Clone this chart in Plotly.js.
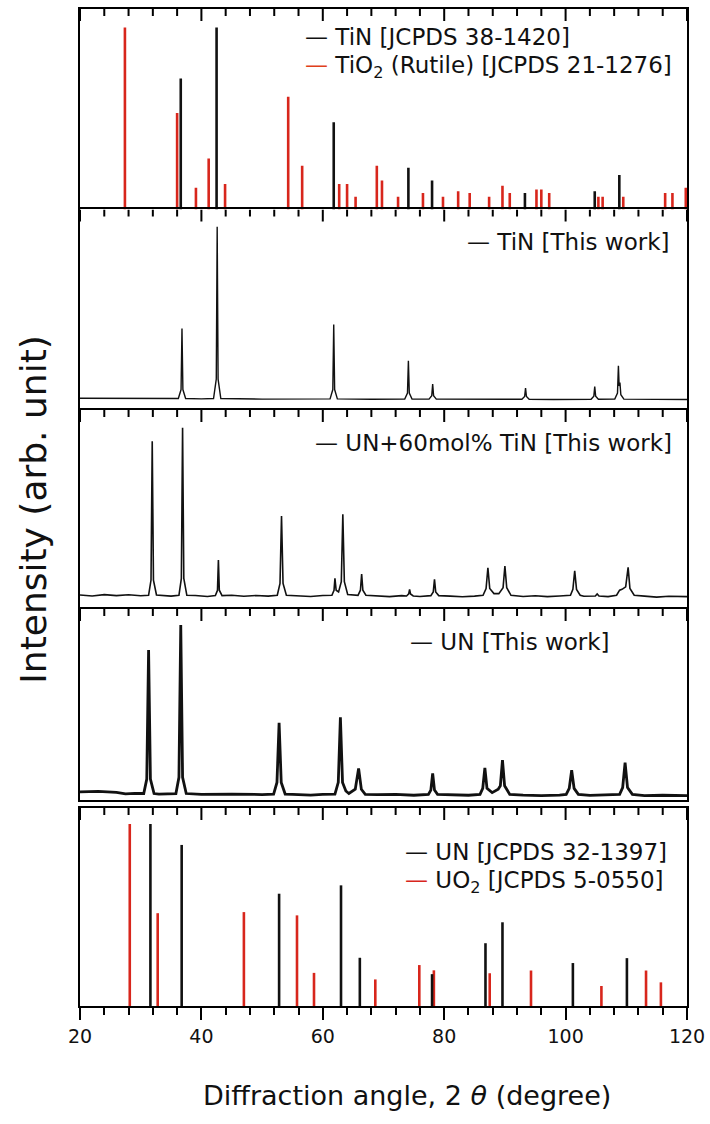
<!DOCTYPE html>
<html>
<head>
<meta charset="utf-8">
<script src="https://cdn.plot.ly/plotly-3.0.1.min.js"></script>
<style>html,body{margin:0;padding:0;background:#fff;}#chart{width:710px;height:1124px;}</style>
</head>
<body>
<div id="chart"></div>
<script>
// ---------- Panel 1: reference patterns TiN & TiO2 (rutile) ----------
const tinRefPos = [36.6, 42.5, 61.8, 74.1, 78.0, 93.3, 104.8, 108.85];
const tinRefInt = [72, 100, 48, 23, 16, 9, 10, 19];
const tio2Pos = [27.4, 36.0, 39.1, 41.2, 43.9, 54.3, 56.6, 62.7, 64.0, 65.4, 68.9, 69.75, 72.4, 76.5, 79.8, 82.3, 84.2, 87.4, 89.6, 90.8, 95.2, 96.0, 97.3, 105.4, 106.1, 109.5, 116.4, 117.6, 119.8];
const tio2Int = [100, 53, 12, 28, 14, 62, 24, 14, 14, 7, 24, 16, 7, 9, 7, 10, 9, 7, 13, 9, 11, 11, 9, 7, 7, 7, 9, 9, 12];

// ---------- Panel 2: TiN [This work] ----------
const tinX = [20, 28, 33, 36.2, 36.65, 36.8, 36.95, 37.4, 40, 42.0, 42.45, 42.6, 42.75, 43.2, 50, 56, 61.2, 61.65, 61.8, 61.95, 62.4, 68, 73.5, 73.95, 74.1, 74.25, 74.7, 77.5, 77.95, 78.1, 78.25, 78.7, 85, 92.8, 93.25, 93.4, 93.55, 94.0, 98, 104.2, 104.65, 104.8, 104.95, 105.4, 108.1, 108.55, 108.7, 108.82, 108.95, 109.1, 109.6, 114, 120];
const tinY = [1.0, 0.8, 0.6, 0.8, 6, 41.3, 6, 0.8, 0.6, 0.8, 12, 100, 12, 0.8, 0.5, 0.7, 0.6, 6, 43.6, 6, 0.6, 0.4, 0.5, 4, 22.7, 4, 0.5, 0.5, 2.5, 9.2, 2.5, 0.5, 0.4, 0.4, 2, 6.8, 2, 0.4, 0.3, 0.4, 2.2, 7.7, 2.2, 0.4, 0.5, 4, 19.8, 8, 10, 3, 0.5, 0.3, 0.3];

// ---------- Panel 3: UN+60mol% TiN [This work] ----------
const mixX = [20, 22, 24, 26, 28, 30, 31.3, 31.7, 31.9, 32.1, 32.6, 34, 35, 36.3, 36.7, 36.9, 37.1, 37.6, 39, 41, 42.3, 42.65, 42.8, 42.95, 43.4, 45, 47, 49, 51, 52.5, 52.95, 53.2, 53.45, 54.0, 56, 58, 60, 61.5, 61.85, 62.0, 62.2, 62.6, 63.05, 63.3, 63.55, 64.1, 65.8, 66.2, 66.4, 66.6, 67.1, 69, 71, 73, 73.8, 74.15, 74.3, 74.45, 74.9, 76, 77.8, 78.2, 78.4, 78.6, 79.1, 81, 83, 85, 86.4, 86.9, 87.2, 87.5, 88.2, 89.0, 89.7, 90.0, 90.3, 91.0, 93, 95, 97, 99, 100.8, 101.2, 101.5, 101.8, 102.4, 103, 104.9, 105.2, 105.5, 107, 108.4, 108.9, 109.3, 109.9, 110.3, 110.6, 111.3, 113, 115, 117, 120];
const mixY = [1.2, 0.6, 1.4, 0.8, 1.3, 0.7, 1.0, 10, 92.1, 10, 1.2, 1.0, 0.5, 1.0, 11, 100, 11, 1.0, 0.9, 0.3, 0.8, 4, 21.8, 4, 0.8, 1.0, 0.4, 0.9, 0.5, 1.0, 8, 47.9, 8, 1.0, 0.8, 0.3, 0.9, 1.0, 4, 11, 4, 3, 9, 48.9, 9, 1.5, 1.0, 4, 13.6, 4, 1.0, 0.6, 0.2, 0.8, 0.6, 1.8, 4.5, 1.8, 0.6, 0.3, 0.8, 3, 10.4, 3, 0.8, 0.5, 0.1, 0.5, 1.0, 5, 17.3, 5, 2, 2, 5.5, 18.3, 5.5, 1.0, 0.3, 0.7, 0.2, 0.6, 1.0, 4.5, 15.5, 4.5, 1.0, 0.4, 0.6, 1.8, 0.6, 0.2, 1.0, 4, 4.5, 6, 17.5, 5, 1.0, 0.5, -0.1, 0.4, 0.2];

// ---------- Panel 4: UN [This work] ----------
const unX = [20, 23, 26, 27.5, 29, 30.5, 31.0, 31.3, 31.6, 32.2, 33, 35.8, 36.3, 36.6, 36.9, 37.5, 40, 45, 50, 51.9, 52.45, 52.8, 53.15, 53.8, 55, 58, 60, 62.0, 62.55, 62.9, 63.25, 63.8, 64.3, 65.35, 65.9, 66.35, 67.0, 69, 72, 75, 77.4, 77.8, 78.1, 78.4, 78.9, 81, 84, 85.9, 86.35, 86.7, 87.05, 87.9, 88.9, 89.25, 89.6, 89.95, 90.8, 93, 96, 99, 100.1, 100.6, 101.0, 101.4, 102.1, 104, 107, 108.9, 109.4, 109.8, 110.2, 111.0, 113, 116, 120];
const unY = [2.5, 2.8, 2.2, 1.3, 1.6, 1.5, 10, 85.4, 10, 1.5, 1.2, 1.5, 11, 100, 11, 1.5, 1.0, 1.2, 0.9, 1.2, 8, 42.9, 8, 1.2, 1.0, 0.6, 1.0, 1.2, 8, 46, 8, 3, 1.5, 4, 16.2, 4, 1.0, 0.8, 1.0, 0.5, 1.0, 3.5, 13.3, 3.5, 1.0, 0.8, 0.5, 1.0, 4.5, 16.5, 4.5, 2, 4, 6, 21, 6, 1.0, 0.6, 0.3, 0.6, 1.0, 4.5, 15.2, 4.5, 1.0, 0.4, 0.7, 1.0, 5, 19.5, 5, 1.0, 0.3, 0.5, 0.3];

// ---------- Panel 5: reference patterns UN & UO2 ----------
const unRefPos = [31.6, 36.75, 52.8, 63.0, 66.1, 78.0, 86.8, 89.6, 101.2, 110.1];
const unRefInt = [100, 88.5, 61.7, 66.3, 26.5, 17.5, 34.5, 46, 23.6, 26.3];
const uo2Pos = [28.2, 32.8, 47.0, 55.75, 58.55, 68.65, 75.9, 78.3, 87.5, 94.3, 105.9, 113.25, 115.7];
const uo2Int = [100, 51, 51.6, 49.8, 18.2, 14.6, 22.5, 19.6, 18, 19.5, 11, 19.5, 13];

// ---------- Ticks & texts ----------
const xTickVals = [20, 40, 60, 80, 100, 120];
const xMinorVals = [24, 28, 32, 36, 44, 48, 52, 56, 64, 68, 72, 76, 84, 88, 92, 96, 104, 108, 112, 116];
const xTitle = 'Diffraction angle, 2 <i>θ</i> (degree)';
const yTitle = 'Intensity (arb. unit)';

const RED = '#d8261c';
const BLK = '#111111';
const TICKC = '#000000';
const FONT = 'DejaVu Sans, Arial, sans-serif';

// panel domains (paper fractions) and y ranges
const dom1 = [0.7989, 1], dom2 = [0.5978, 0.7989], dom3 = [0.3982, 0.5978], dom4 = [0.2066, 0.3982], dom5 = [0, 0.1986];
const rng1 = [0, 110.2], rng2 = [-5.8, 110], rng3 = [-7.1, 110.5], rng4 = [-2.3, 109.4], rng5 = [0, 108.8];
const PLOT_H = 997;

function sticks(pos, inten, color, xa, ya, w) {
  const x = [], y = [];
  pos.forEach((p, i) => { x.push(p, p, null); y.push(0, inten[i], null); });
  return {type: 'scatter', mode: 'lines', x, y, xaxis: xa, yaxis: ya,
          line: {color, width: w}, hoverinfo: 'skip', showlegend: false, connectgaps: false};
}
function profile(x, y, xa, ya, w) {
  return {type: 'scatter', mode: 'lines', x, y, xaxis: xa, yaxis: ya,
          line: {color: BLK, width: w}, hoverinfo: 'skip', showlegend: false};
}
// downward tick marks hanging from the top edge of a panel (length in px, converted with the panel's own scale)
function topTicks(xa, ya, rng, dom) {
  const unitsPerPx = (rng[1] - rng[0]) / ((dom[1] - dom[0]) * PLOT_H);
  const x = [], y = [];
  xTickVals.forEach(t => { x.push(t, t, null); y.push(rng[1], rng[1] - 12 * unitsPerPx, null); });
  xMinorVals.forEach(t => { x.push(t, t, null); y.push(rng[1], rng[1] - 7 * unitsPerPx, null); });
  return {type: 'scatter', mode: 'lines', x, y, xaxis: xa, yaxis: ya, cliponaxis: false,
          line: {color: TICKC, width: 2}, hoverinfo: 'skip', showlegend: false, connectgaps: false};
}

const data = [
  sticks(tio2Pos, tio2Int, RED, 'x', 'y', 2.6),
  sticks(tinRefPos, tinRefInt, BLK, 'x', 'y', 2.6),
  profile(tinX, tinY, 'x2', 'y2', 1.4),
  profile(mixX, mixY, 'x3', 'y3', 1.6),
  profile(unX, unY, 'x4', 'y4', 2.8),
  sticks(uo2Pos, uo2Int, RED, 'x5', 'y5', 2.6),
  sticks(unRefPos, unRefInt, BLK, 'x5', 'y5', 2.6),
  topTicks('x', 'y', rng1, dom1),
  topTicks('x2', 'y2', rng2, dom2),
  topTicks('x3', 'y3', rng3, dom3),
  topTicks('x4', 'y4', rng4, dom4),
  topTicks('x5', 'y5', rng5, dom5)
];

// top edge line only (the panel below draws the shared boundary); panel 4 also draws its bottom edge
function boxX(anchor, both) {
  return {anchor, side: 'top', range: [20, 120], showline: true, mirror: both, linewidth: 2, linecolor: '#000',
          ticks: '', showticklabels: false, showgrid: false, zeroline: false, fixedrange: true};
}
function yAx(domain, range) {
  return {domain, range, showline: true, mirror: true, linewidth: 2, linecolor: '#000', ticks: '',
          showticklabels: false, showgrid: false, zeroline: false, fixedrange: true};
}

const layout = {
  width: 710, height: 1124,
  margin: {l: 80, r: 23, t: 9, b: 118},
  paper_bgcolor: '#fff', plot_bgcolor: '#fff',
  font: {family: FONT, color: '#111', size: 19},
  showlegend: false,
  xaxis: boxX('y', false),
  xaxis2: boxX('y2', false),
  xaxis3: boxX('y3', false),
  xaxis4: boxX('y4', true),
  xaxis5: {anchor: 'y5', side: 'bottom', range: [20, 120], showline: true, mirror: true, linewidth: 2,
           linecolor: '#000', tickfont: {size: 19, family: FONT}, showgrid: false, zeroline: false, fixedrange: true,
           ticks: 'outside', ticklen: 12, tickwidth: 2, tickcolor: '#000', tickvals: xTickVals,
           minor: {ticks: 'outside', tickvals: xMinorVals, ticklen: 7, tickwidth: 2, tickcolor: '#000', showgrid: false}},
  yaxis: yAx(dom1, rng1),
  yaxis2: yAx(dom2, rng2),
  yaxis3: Object.assign(yAx(dom3, rng3),
           {title: {text: yTitle, font: {size: 36, family: FONT}, standoff: 20}}),
  yaxis4: yAx(dom4, rng4),
  yaxis5: yAx(dom5, rng5),
  annotations: [
    {xref: 'x', yref: 'y domain', x: 56.7, y: 0.862, xanchor: 'left', yanchor: 'middle', showarrow: false,
     text: '— TiN [JCPDS 38-1420]', font: {size: 23, family: FONT, color: '#111'}},
    {xref: 'x', yref: 'y domain', x: 56.7, y: 0.712, xanchor: 'left', yanchor: 'middle', showarrow: false,
     text: '<span style="color:#e0401a">—</span> TiO<sub>2</sub> (Rutile) [JCPDS 21-1276]', font: {size: 23, family: FONT, color: '#111'}},
    {xref: 'x2', yref: 'y2 domain', x: 117.3, y: 0.839, xanchor: 'right', yanchor: 'middle', showarrow: false,
     text: '— TiN [This work]', font: {size: 23, family: FONT, color: '#111'}},
    {xref: 'x3', yref: 'y3 domain', x: 117.8, y: 0.833, xanchor: 'right', yanchor: 'middle', showarrow: false,
     text: '— UN+60mol% TiN [This work]', font: {size: 23, family: FONT, color: '#111'}},
    {xref: 'x4', yref: 'y4 domain', x: 107.6, y: 0.829, xanchor: 'right', yanchor: 'middle', showarrow: false,
     text: '— UN [This work]', font: {size: 23, family: FONT, color: '#111'}},
    {xref: 'x5', yref: 'y5 domain', x: 73.2, y: 0.778, xanchor: 'left', yanchor: 'middle', showarrow: false,
     text: '— UN [JCPDS 32-1397]', font: {size: 23, family: FONT, color: '#111'}},
    {xref: 'x5', yref: 'y5 domain', x: 73.2, y: 0.625, xanchor: 'left', yanchor: 'middle', showarrow: false,
     text: '<span style="color:#d8261c">—</span> UO<sub>2</sub> [JCPDS 5-0550]', font: {size: 23, family: FONT, color: '#111'}},
    {xref: 'paper', yref: 'paper', x: 0.539, y: -0.0893, xanchor: 'center', yanchor: 'middle', showarrow: false,
     text: xTitle, font: {size: 27, family: FONT, color: '#111'}}
  ]
};

Plotly.newPlot('chart', data, layout, {staticPlot: true, displayModeBar: false});
</script>
</body>
</html>
